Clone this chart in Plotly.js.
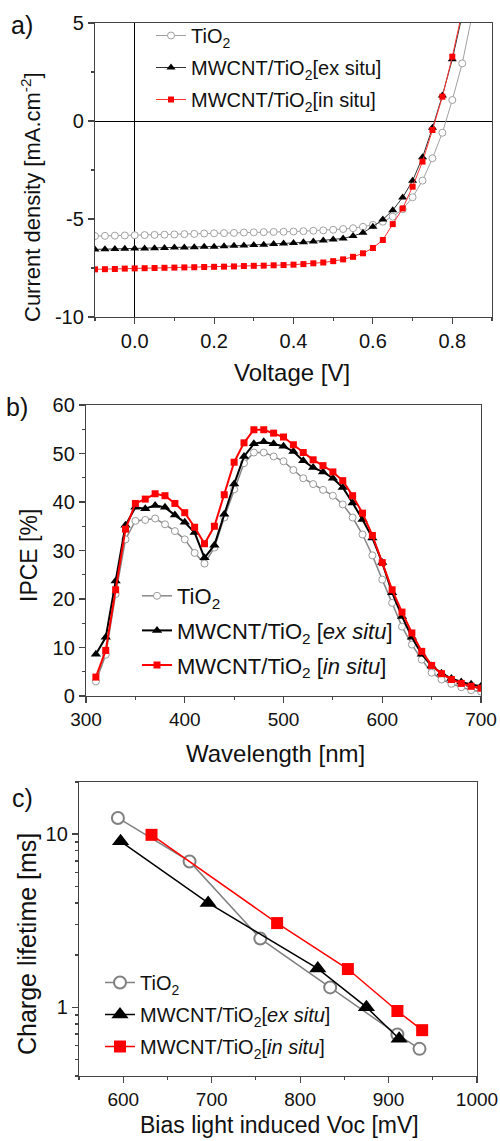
<!DOCTYPE html>
<html>
<head>
<meta charset="utf-8">
<script src="https://cdn.plot.ly/plotly-3.0.1.min.js"></script>
<style>html,body{margin:0;padding:0;background:#fff;}#chart{width:500px;height:1141px;}</style>
</head>
<body>
<div id="chart"></div>
<script>
// ---- Panel a: J-V curves ----
const voltage = [-0.1,-0.075,-0.05,-0.025,0,0.025,0.05,0.075,0.1,0.125,0.15,0.175,0.2,0.225,0.25,0.275,0.3,0.325,0.35,0.375,0.4,0.425,0.45,0.475,0.5,0.525,0.55,0.575,0.6,0.625,0.65,0.675,0.7,0.725,0.75,0.775,0.8,0.825,0.85];
const jTiO2 = [-5.87,-5.86,-5.85,-5.84,-5.83,-5.82,-5.81,-5.80,-5.79,-5.77,-5.76,-5.74,-5.73,-5.72,-5.71,-5.69,-5.68,-5.67,-5.66,-5.65,-5.64,-5.62,-5.60,-5.58,-5.55,-5.51,-5.47,-5.40,-5.30,-5.14,-4.88,-4.50,-3.89,-3.04,-1.90,-0.60,1.07,2.94,5.4];
const jExSitu = [-6.55,-6.54,-6.53,-6.52,-6.51,-6.50,-6.49,-6.48,-6.46,-6.45,-6.44,-6.42,-6.41,-6.39,-6.37,-6.35,-6.33,-6.31,-6.28,-6.25,-6.22,-6.19,-6.15,-6.10,-6.04,-5.99,-5.87,-5.70,-5.39,-5.03,-4.55,-3.90,-3.05,-1.85,-0.35,1.30,3.15,5.4];
const jInSitu = [-7.57,-7.56,-7.55,-7.53,-7.52,-7.51,-7.50,-7.49,-7.48,-7.47,-7.46,-7.45,-7.44,-7.43,-7.42,-7.40,-7.39,-7.38,-7.36,-7.35,-7.33,-7.30,-7.26,-7.22,-7.15,-7.06,-6.93,-6.75,-6.48,-6.07,-5.26,-4.46,-3.35,-2.07,-0.46,1.24,3.28,5.6];

// ---- Panel b: IPCE ----
const wavelength = [310,320,330,340,350,360,370,380,390,400,410,420,430,440,450,460,470,480,490,500,510,520,530,540,550,560,570,580,590,600,610,620,630,640,650,660,670,680,690,700];
const ipceTiO2 = [3.0,8.5,21.0,32.3,36.1,36.3,36.6,35.4,34.0,32.3,29.5,27.3,30.6,36.8,42.6,48.0,50.2,50.2,49.4,48.4,46.6,44.9,43.7,42.5,41.3,39.5,36.8,33.3,29.0,24.0,19.2,14.3,10.6,7.5,4.8,3.4,2.5,1.8,1.2,0.9];
const ipceExSitu = [8.6,12.1,23.7,35.2,38.9,38.6,39.3,38.9,37.3,35.8,33.7,28.5,31.1,37.5,43.7,49.4,52.0,52.4,52.0,51.5,50.4,48.5,47.1,46.2,44.9,43.0,39.8,36.4,32.6,27.5,21.3,16.4,12.1,8.6,6.2,4.7,3.6,2.9,2.4,2.0];
const ipceInSitu = [3.9,9.4,21.9,34.4,39.7,40.6,41.7,41.3,39.7,37.8,34.8,31.4,35.0,41.5,48.2,52.2,54.9,54.9,54.2,53.4,51.8,50.2,48.7,47.5,46.2,44.4,41.3,37.7,33.1,27.5,21.9,17.3,13.0,9.2,6.3,4.6,3.4,2.6,2.0,1.6];

// ---- Panel c: charge lifetime ----
const vocTiO2 = [594,675,755,834,910,935];
const tauTiO2 = [12.4,6.95,2.49,1.30,0.695,0.574];
const vocExSitu = [597,696,820,875,912];
const tauExSitu = [9.08,4.0,1.67,1.0,0.656];
const vocInSitu = [632,774,854,910,938];
const tauInSitu = [9.9,3.06,1.66,0.95,0.736];

const names = ['TiO<sub>2</sub>','MWCNT/TiO<sub>2</sub>[ex situ]','MWCNT/TiO<sub>2</sub>[in situ]'];
const namesB = ['TiO<sub>2</sub>','MWCNT/TiO<sub>2</sub> [<i>ex situ</i>]','MWCNT/TiO<sub>2</sub> [<i>in situ</i>]'];
const namesC = ['TiO<sub>2</sub>','MWCNT/TiO<sub>2</sub>[<i>ex situ</i>]','MWCNT/TiO<sub>2</sub>[<i>in situ</i>]'];

const W = 500, H = 1141;
const px = v => v / W;
const py = v => 1 - v / H;
const FONT = 'Liberation Sans, Arial, sans-serif';

const traces = [
  // a
  {x: voltage, y: jTiO2, xaxis:'x', yaxis:'y', legend:'legend', legendgroup:'a1', name: names[0], mode:'lines+markers',
   line:{color:'#a0a0a0', width:1}, marker:{symbol:'circle', size:7, color:'#ffffff', line:{color:'#a0a0a0', width:1}}},
  {x: voltage, y: jExSitu, xaxis:'x', yaxis:'y', legend:'legend', legendgroup:'a2', name: names[1], mode:'lines+markers',
   line:{color:'#333333', width:1}, marker:{symbol:'triangle-up', size:8, color:'#000000'}},
  {x: voltage, y: jInSitu, xaxis:'x', yaxis:'y', legend:'legend', legendgroup:'a3', name: names[2], mode:'lines+markers',
   line:{color:'#ff3030', width:1}, marker:{symbol:'square', size:6, color:'#ff0000'}},
  // b
  {x: wavelength, y: ipceTiO2, xaxis:'x2', yaxis:'y2', legend:'legend2', legendgroup:'b1', name: namesB[0], mode:'lines+markers',
   line:{color:'#888888', width:1.5}, marker:{symbol:'circle', size:7, color:'#ffffff', line:{color:'#999999', width:1}}},
  {x: wavelength, y: ipceExSitu, xaxis:'x2', yaxis:'y2', legend:'legend2', legendgroup:'b2', name: namesB[1], mode:'lines+markers',
   line:{color:'#000000', width:2}, marker:{symbol:'triangle-up', size:9, color:'#000000'}},
  {x: wavelength, y: ipceInSitu, xaxis:'x2', yaxis:'y2', legend:'legend2', legendgroup:'b3', name: namesB[2], mode:'lines+markers',
   line:{color:'#ff0000', width:2}, marker:{symbol:'square', size:7, color:'#ff0000'}},
  // c
  {x: vocTiO2, y: tauTiO2, xaxis:'x3', yaxis:'y3', legend:'legend3', legendgroup:'c1', name: namesC[0], mode:'lines+markers',
   line:{color:'#808080', width:1.5}, marker:{symbol:'circle', size:12, color:'#ffffff', line:{color:'#808080', width:2}}},
  {x: vocExSitu, y: tauExSitu, xaxis:'x3', yaxis:'y3', legend:'legend3', legendgroup:'c2', name: namesC[1], mode:'lines+markers',
   line:{color:'#000000', width:1.5}, marker:{symbol:'triangle-up', size:15, color:'#000000'}},
  {x: vocInSitu, y: tauInSitu, xaxis:'x3', yaxis:'y3', legend:'legend3', legendgroup:'c3', name: namesC[2], mode:'lines+markers',
   line:{color:'#ff0000', width:1.5}, marker:{symbol:'square', size:12, color:'#ff0000'}}
];

const axBase = {
  showgrid:false, showline:true, mirror:true, linecolor:'#444444', linewidth:1.2,
  ticks:'outside', tickcolor:'#444444', ticklen:6, tickwidth:1.2,
  tickfont:{family:FONT, size:20, color:'#111111'}, automargin:false, fixedrange:true
};

const layout = {
  width: W, height: H,
  margin:{l:0, r:0, t:0, b:0},
  paper_bgcolor:'#ffffff', plot_bgcolor:'#ffffff',
  font:{family:FONT, color:'#111111'},
  showlegend:true,
  xaxis: Object.assign({}, axBase, {
    domain:[px(95), px(492)], anchor:'y', range:[-0.1, 0.9],
    tickvals:[0,0.2,0.4,0.6,0.8], ticktext:['0.0','0.2','0.4','0.6','0.8'],
    minor:{dtick:0.1, tick0:0, ticks:'outside', ticklen:3, tickcolor:'#444444'},
    zeroline:true, zerolinecolor:'#000000', zerolinewidth:1
  }),
  yaxis: Object.assign({}, axBase, {
    domain:[py(317), py(23)], anchor:'x', range:[-10, 5],
    tickvals:[-10,-5,0,5], ticktext:['-10','-5','0','5'],
    minor:{dtick:2.5, tick0:0, ticks:'outside', ticklen:3, tickcolor:'#444444'},
    zeroline:true, zerolinecolor:'#000000', zerolinewidth:1
  }),
  xaxis2: Object.assign({}, axBase, {
    domain:[px(86), px(481)], anchor:'y2', range:[300, 700],
    tickvals:[300,400,500,600,700],
    minor:{dtick:50, tick0:300, ticks:'outside', ticklen:3, tickcolor:'#444444'},
    zeroline:false, tickfont:{family:FONT, size:19, color:'#111111'}
  }),
  yaxis2: Object.assign({}, axBase, {
    domain:[py(696), py(405)], anchor:'x2', range:[0, 60],
    tickvals:[0,10,20,30,40,50,60],
    minor:{dtick:5, tick0:0, ticks:'outside', ticklen:3, tickcolor:'#444444'},
    zeroline:false, tickfont:{family:FONT, size:20, color:'#111111'}
  }),
  xaxis3: Object.assign({}, axBase, {
    domain:[px(79), px(477)], anchor:'y3', range:[550, 1000],
    tickvals:[600,700,800,900,1000],
    minor:{dtick:50, tick0:550, ticks:'outside', ticklen:3, tickcolor:'#444444'},
    zeroline:false, tickfont:{family:FONT, size:19, color:'#111111'}
  }),
  yaxis3: Object.assign({}, axBase, {
    domain:[py(1076), py(782)], anchor:'x3', type:'log', range:[Math.log10(0.4), Math.log10(20)],
    tickvals:[1,10], ticktext:['1','10'],
    minor:{tickmode:'array', tickvals:[0.4,0.5,0.6,0.7,0.8,0.9,2,3,4,5,6,7,8,9,20], ticks:'outside', ticklen:3, tickcolor:'#444444'},
    zeroline:false, tickfont:{family:FONT, size:20, color:'#111111'}
  }),
  legend:{x:px(151), y:py(16), xanchor:'left', yanchor:'top', bgcolor:'rgba(0,0,0,0)',
    font:{family:FONT, size:20, color:'#111111'}, tracegroupgap:3},
  legend2:{x:px(137), y:py(575), xanchor:'left', yanchor:'top', bgcolor:'rgba(0,0,0,0)',
    font:{family:FONT, size:22, color:'#111111'}, tracegroupgap:3},
  legend3:{x:px(100), y:py(963), xanchor:'left', yanchor:'top', bgcolor:'rgba(0,0,0,0)',
    font:{family:FONT, size:20, color:'#111111'}, tracegroupgap:3},
  annotations:[
    {text:'a)', x:px(22), y:py(25), xref:'paper', yref:'paper', showarrow:false, xanchor:'center', yanchor:'middle', font:{family:FONT, size:25, color:'#111'}},
    {text:'b)', x:px(17), y:py(407), xref:'paper', yref:'paper', showarrow:false, xanchor:'center', yanchor:'middle', font:{family:FONT, size:25, color:'#111'}},
    {text:'c)', x:px(22), y:py(798), xref:'paper', yref:'paper', showarrow:false, xanchor:'center', yanchor:'middle', font:{family:FONT, size:25, color:'#111'}},
    {text:'Voltage [V]', x:px(292), y:py(372), xref:'paper', yref:'paper', showarrow:false, xanchor:'center', yanchor:'middle', font:{family:FONT, size:24, color:'#111'}},
    {text:'Current density [mA.cm<sup>-2</sup>]', x:px(31), y:py(197), xref:'paper', yref:'paper', showarrow:false, textangle:-90, xanchor:'center', yanchor:'middle', font:{family:FONT, size:22, color:'#111'}},
    {text:'Wavelength [nm]', x:px(275), y:py(753), xref:'paper', yref:'paper', showarrow:false, xanchor:'center', yanchor:'middle', font:{family:FONT, size:24, color:'#111'}},
    {text:'IPCE [%]', x:px(29), y:py(556), xref:'paper', yref:'paper', showarrow:false, textangle:-90, xanchor:'center', yanchor:'middle', font:{family:FONT, size:23, color:'#111'}},
    {text:'Bias light induced Voc [mV]', x:px(279), y:py(1125), xref:'paper', yref:'paper', showarrow:false, xanchor:'center', yanchor:'middle', font:{family:FONT, size:23, color:'#111'}},
    {text:'Charge lifetime [ms]', x:px(27), y:py(944), xref:'paper', yref:'paper', showarrow:false, textangle:-90, xanchor:'center', yanchor:'middle', font:{family:FONT, size:25, color:'#111'}}
  ]
};

Plotly.newPlot('chart', traces, layout, {staticPlot:true, displayModeBar:false});
</script>
</body>
</html>
